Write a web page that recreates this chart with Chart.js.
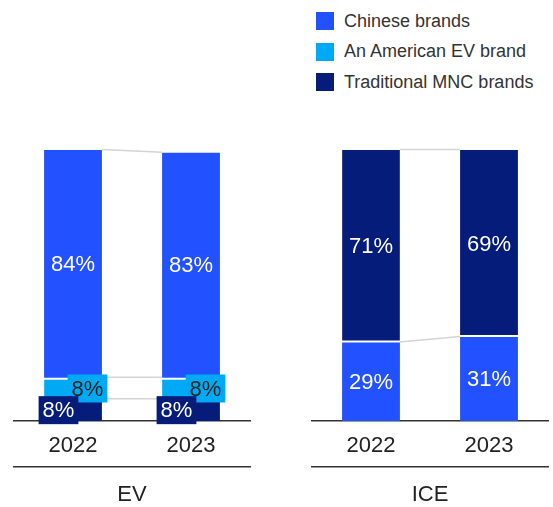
<!DOCTYPE html>
<html>
<head>
<meta charset="utf-8">
<script src="https://cdn.jsdelivr.net/npm/chart.js@4.4.1/dist/chart.umd.min.js"></script>
<style>
  body { margin: 0; background: #fff; width: 553px; height: 507px; position: relative; overflow: hidden;
         font-family: "Liberation Sans", Arial, sans-serif; }
  #evChart { position: absolute; left: 0; top: 0; }
  #iceChart { position: absolute; left: 276px; top: 0; }
  #legend { position: absolute; left: 316px; top: 12px; }
  .item { display: flex; align-items: center; height: 18px; margin-bottom: 12.5px; font-size: 18px; color: #333; white-space: nowrap; }
  .item i { display: inline-block; width: 18px; height: 18px; margin-right: 10px; }
</style>
</head>
<body>
<div id="legend"></div>
<canvas id="evChart" width="276" height="507"></canvas>
<canvas id="iceChart" width="277" height="507"></canvas>
<script>
const years = ['2022', '2023'];
const seriesNames = ['Chinese brands', 'An American EV brand', 'Traditional MNC brands'];
const evChinese = [84, 83];
const evAmerican = [8, 8];
const evTraditional = [8, 8];
const iceChinese = [29, 31];
const iceTraditional = [71, 69];

const BLUE = '#2251ff', CYAN = '#00a9f4', NAVY = '#051c7a';
const FONT = '"Liberation Sans", Arial, sans-serif';
Chart.defaults.font.family = FONT;

// legend
const legendEl = document.getElementById('legend');
[BLUE, CYAN, NAVY].forEach((c, i) => {
  const row = document.createElement('div');
  row.className = 'item';
  row.innerHTML = '<i style="background:' + c + '"></i>' + seriesNames[i];
  legendEl.appendChild(row);
});

// grey lines joining segment tops of neighbouring bars
const connectors = {
  id: 'connectors',
  afterDatasetsDraw(chart) {
    const ctx = chart.ctx;
    ctx.save();
    ctx.strokeStyle = '#d4d4d4';
    ctx.lineWidth = 1.5;
    chart.data.datasets.forEach((ds, di) => {
      const bars = chart.getDatasetMeta(di).data;
      for (let i = 0; i < bars.length - 1; i++) {
        const a = bars[i], b = bars[i + 1];
        ctx.beginPath();
        ctx.moveTo(a.x + a.width / 2, a.y - 0.5);
        ctx.lineTo(b.x - b.width / 2, b.y - 0.5);
        ctx.stroke();
      }
    });
    ctx.restore();
  }
};

// percentage labels, small segments get a coloured tag shifted sideways
const barLabels = {
  id: 'barLabels',
  afterDatasetsDraw(chart) {
    const ctx = chart.ctx;
    ctx.save();
    ctx.font = '22px ' + FONT;
    ctx.textAlign = 'center';
    ctx.textBaseline = 'middle';
    const sets = chart.data.datasets;
    for (let di = sets.length - 1; di >= 0; di--) {
      const ds = sets[di];
      const tag = ds.tag || {};
      chart.getDatasetMeta(di).data.forEach((bar, i) => {
        const v = ds.data[i];
        if (!v) return;
        const text = v + '%';
        const x = bar.x + (tag.dx || 0);
        const y = (bar.y + bar.base) / 2;
        if (tag.box) {
          const w = ctx.measureText(text).width + 8;
          ctx.fillStyle = ds.backgroundColor;
          ctx.fillRect(x - w / 2, y - 14, w, 28);
        }
        ctx.fillStyle = tag.color || '#fff';
        ctx.fillText(text, x, y + 1);
      });
    }
    ctx.restore();
  }
};

function makeChart(id, group, datasets, padLeft, padRight) {
  return new Chart(document.getElementById(id), {
    type: 'bar',
    data: { labels: years, datasets: datasets },
    options: {
      responsive: false,
      animation: false,
      layout: { padding: { top: 150, left: padLeft, right: padRight, bottom: 0 } },
      plugins: { legend: { display: false }, tooltip: { enabled: false } },
      datasets: { bar: { barPercentage: 0.49, categoryPercentage: 1, borderColor: '#fff' } },
      scales: {
        y: { stacked: true, display: false, min: 0, max: 100 },
        x: {
          stacked: true,
          grid: { display: false, drawTicks: false },
          border: { display: true, color: '#333', width: 1.5 },
          ticks: { color: '#222', font: { size: 22 }, padding: 12 },
          afterFit(s) { s.height = 46; }
        },
        group: {
          type: 'category',
          position: 'bottom',
          labels: [group],
          offset: true,
          grid: { display: false, drawTicks: false },
          border: { display: true, color: '#333', width: 1.5 },
          ticks: { color: '#222', font: { size: 22 }, padding: 15 },
          afterFit(s) { s.height = 40; }
        }
      }
    },
    plugins: [connectors, barLabels]
  });
}

makeChart('evChart', 'EV', [
  { label: seriesNames[2], data: evTraditional, backgroundColor: NAVY,
    borderWidth: { top: 0, left: 0, right: 0, bottom: 0 }, tag: { box: true, dx: -14.5, color: '#fff' } },
  { label: seriesNames[1], data: evAmerican, backgroundColor: CYAN,
    borderWidth: { top: 2, left: 0, right: 0, bottom: 0 }, tag: { box: true, dx: 14.5, color: '#222' } },
  { label: seriesNames[0], data: evChinese, backgroundColor: BLUE,
    borderWidth: { top: 0, left: 0, right: 0, bottom: 0 }, tag: { color: '#fff' } }
], 14, 26);

makeChart('iceChart', 'ICE', [
  { label: seriesNames[0], data: iceChinese, backgroundColor: BLUE,
    borderWidth: { top: 0, left: 0, right: 0, bottom: 0 }, tag: { color: '#fff' } },
  { label: seriesNames[2], data: iceTraditional, backgroundColor: NAVY,
    borderWidth: { top: 0, left: 0, right: 0, bottom: 2 }, borderSkipped: false, tag: { color: '#fff' } }
], 36, 5);
</script>
</body>
</html>
